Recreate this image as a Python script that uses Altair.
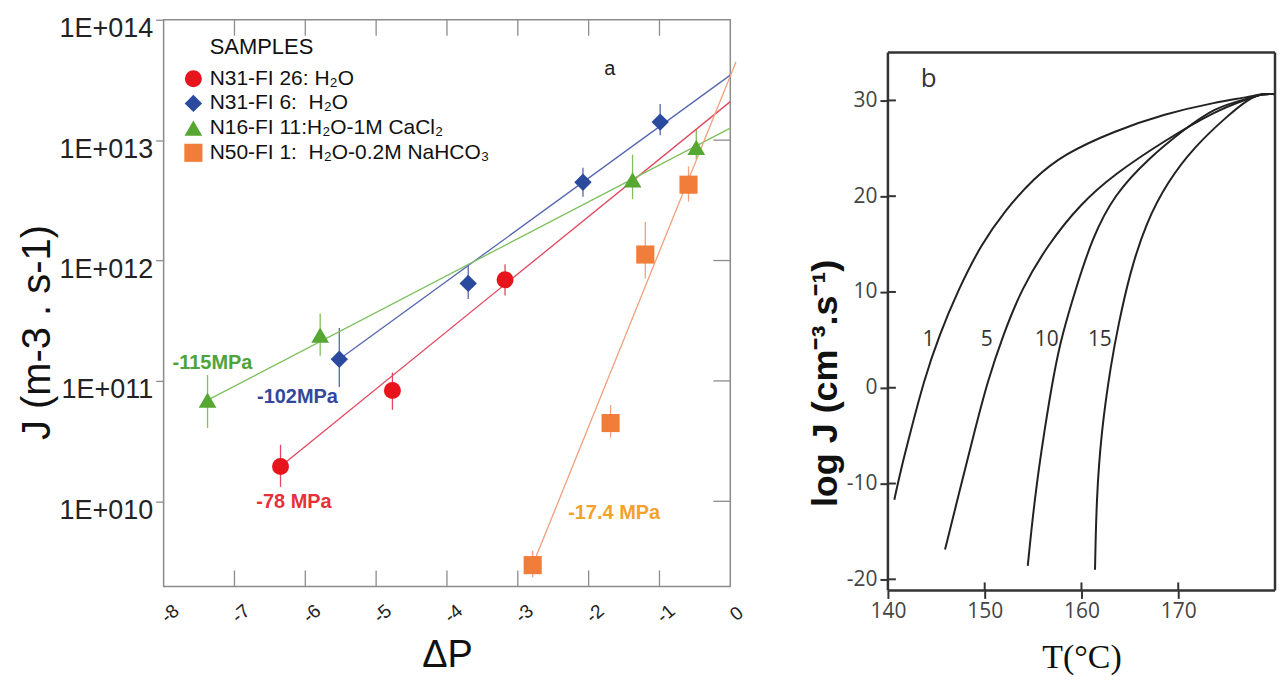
import altair as alt
import pandas as pd

# ---------------- Panel a : J vs delta P ----------------
series_names = ["N31-FI 26", "N31-FI 6", "N16-FI 11", "N50-FI 1"]
legend_labels = ["N31-FI 26: H₂O", "N31-FI 6: \u00a0H₂O", "N16-FI 11:H₂O-1M CaCl₂",
                 "N50-FI 1: \u00a0H₂O-0.2M NaHCO₃"]

red_dp = [-6.35, -4.77, -3.18]
red_logj = [10.29, 10.92, 11.84]
red_err_up = [0.18, 0.15, 0.13]
red_err_dn = [0.17, 0.16, 0.13]

blue_dp = [-5.52, -3.70, -2.08, -0.99]
blue_logj = [11.18, 11.81, 12.65, 13.15]
blue_err_up = [0.26, 0.16, 0.12, 0.15]
blue_err_dn = [0.23, 0.13, 0.12, 0.11]

green_dp = [-7.38, -5.79, -1.38, -0.48]
green_logj = [10.84, 11.38, 12.67, 12.94]
green_err_up = [0.21, 0.18, 0.21, 0.15]
green_err_dn = [0.23, 0.17, 0.16, 0.10]

orange_dp = [-2.79, -1.69, -1.20, -0.59]
orange_logj = [9.47, 10.65, 12.05, 12.63]
orange_err_up = [0.12, 0.15, 0.27, 0.15]
orange_err_dn = [0.10, 0.12, 0.20, 0.14]

# fitted lines (start / end)
fit_dp0 = [-6.35, -5.52, -7.38, -2.79]
fit_logj0 = [10.29, 11.18, 10.84, 9.47]
fit_dp1 = [0.0, 0.0, 0.0, 0.08]
fit_logj1 = [13.32, 13.54, 13.10, 13.65]

mpa_text = ["-78 MPa", "-102MPa", "-115MPa", "-17.4 MPa"]
mpa_dp = [-6.16, -6.11, -7.31, -1.64]
mpa_logj = [9.99, 10.87, 11.15, 9.90]

legend_title = "SAMPLES"
legend_title_pos = (-7.35, 13.77)
legend_dp_marker = -7.58
legend_dp_text = -7.35
legend_logj = [13.51, 13.305, 13.10, 12.895]

panel_a_label = ("a", -1.70, 13.59)

x_ticks_a = [-8, -7, -6, -5, -4, -3, -2, -1, 0]
y_ticks_a = [1e10, 1e11, 1e12, 1e13, 1e14]
y_min_log_a = 9.293

# ---------------- Panel b : log J vs T ----------------
curve_names = ["1", "5", "10", "15"]
c1_T = [140.66, 141.3, 142.35, 143.7, 145.3, 147.3, 149.6, 152.0, 155.1, 158.2, 163.4, 168.6, 173.8, 177.3, 178.7, 180.0]
c1_L = [-11.7, -8.7, -4.55, 0.7, 5.5, 10.3, 14.9, 18.4, 21.9, 24.4, 26.8, 28.6, 29.8, 30.35, 30.7, 30.65]
c5_T = [145.9, 147.2, 148.95, 150.3, 151.9, 153.8, 156.5, 159.9, 163.4, 168.6, 173.8, 177.3, 178.7, 180.0]
c5_L = [-16.9, -11.6, -4.55, 0.7, 5.5, 10.3, 14.9, 19.2, 22.3, 25.8, 28.9, 30.2, 30.7, 30.65]
c10_T = [154.45, 155.15, 156.15, 157.2, 158.0, 159.4, 161.1, 163.4, 167.0, 170.4, 173.8, 177.3, 178.7, 180.0]
c10_L = [-18.6, -11.6, -4.55, 1.8, 5.5, 10.3, 15.6, 20.2, 24.0, 26.8, 29.3, 30.2, 30.7, 30.65]
c15_T = [161.4, 161.55, 162.05, 163.05, 163.8, 165.0, 166.7, 168.9, 171.6, 175.1, 177.3, 178.7, 180.0]
c15_L = [-19.0, -11.6, -4.55, 2.5, 6.5, 12.0, 17.3, 21.5, 25.1, 28.4, 30.2, 30.7, 30.65]

curve_label_T = [144.2, 150.2, 156.4, 161.9]
curve_label_L = [4.95, 4.95, 4.95, 4.95]
panel_b_label = ("b", 144.2, 32.2)

x_ticks_b = [140, 150, 160, 170]
y_ticks_b = [-20, -10, 0, 10, 20, 30]
t_min, t_max = 140, 180
logj_min, logj_frame_top, logj_top = -21.16, 35.0, 38.42

# ---------------- styles ----------------
pt_colors = ["#e8141c", "#2b4a9e", "#56a832", "#f07e3a"]
line_colors = ["#e2475e", "#5468b0", "#7fbf5e", "#f2a07c"]
mpa_colors = ["#e8303a", "#34479a", "#4ea33a", "#f3a22e"]
shapes = ["circle", "diamond", "triangle-up", "square"]
sizes = [290, 330, 300, 330]
SANS = "Liberation Sans"

# ---------------- build tables ----------------
rows = []
for name, xs, ys, ups, dns in [
    (series_names[0], red_dp, red_logj, red_err_up, red_err_dn),
    (series_names[1], blue_dp, blue_logj, blue_err_up, blue_err_dn),
    (series_names[2], green_dp, green_logj, green_err_up, green_err_dn),
    (series_names[3], orange_dp, orange_logj, orange_err_up, orange_err_dn),
]:
    for x, y, u, d in zip(xs, ys, ups, dns):
        rows.append({"series": name, "dp": x, "J": 10 ** y, "lo": 10 ** (y - d), "hi": 10 ** (y + u)})
df_pts = pd.DataFrame(rows)

fit_rows = []
for i, name in enumerate(series_names):
    fit_rows.append({"series": name, "dp": fit_dp0[i], "J": 10 ** fit_logj0[i], "o": 0, "lc": line_colors[i]})
    fit_rows.append({"series": name, "dp": fit_dp1[i], "J": 10 ** fit_logj1[i], "o": 1, "lc": line_colors[i]})
df_fit = pd.DataFrame(fit_rows)

df_err = df_pts.copy()
df_err["lc"] = df_err["series"].map(dict(zip(series_names, line_colors)))

df_mpa = pd.DataFrame({"t": mpa_text, "dp": mpa_dp, "J": [10 ** v for v in mpa_logj], "c": mpa_colors})
df_leg = pd.DataFrame({"series": series_names, "label": legend_labels,
                       "dpm": [legend_dp_marker] * 4, "dpt": [legend_dp_text] * 4,
                       "J": [10 ** v for v in legend_logj]})

W_A, H_A = 568, 568
W_B, H_B = 388, 572

xs_a = alt.Scale(domain=[x_ticks_a[0], x_ticks_a[-1]], nice=False, zero=False)
ys_a = alt.Scale(type="log", domain=[10 ** y_min_log_a, y_ticks_a[-1]], nice=False)
col_s = alt.Scale(domain=series_names, range=pt_colors)
shp_s = alt.Scale(domain=series_names, range=shapes)
siz_s = alt.Scale(domain=series_names, range=sizes)

x_axis_a = alt.Axis(title="ΔP", values=x_ticks_a, labelExpr="'' + datum.value", labelAngle=-40,
                    labelAlign="center", labelBaseline="middle", labelPadding=27, labelOffset=6,
                    labelFontSize=19, labelFont=SANS, labelColor="#222", ticks=False, tickSize=0,
                    domain=False, grid=False, labelFlush=False, labelOverlap=False,
                    titleFontSize=38, titleFont=SANS, titleFontWeight="normal", titleColor="#111",
                    titleY=69, titleBaseline="middle")
y_axis_a = alt.Axis(title="J  (m-3 . s-1)", values=y_ticks_a,
                    labelExpr="'1E+0' + round(log(datum.value)/LN10)", labelFontSize=27,
                    labelFont=SANS, labelColor="#222", labelOffset=9, labelPadding=3, tickSize=8,
                    tickColor="#8c8c8c", tickWidth=1.3, domain=False, grid=False,
                    labelOverlap=False, labelFlush=False, titleFontSize=40, titleFont=SANS,
                    titleFontWeight="normal", titleColor="#111", titleX=-126, titleY=313,
                    titleAngle=270, titleAlign="center", titleBaseline="middle")

err = alt.Chart(df_err).mark_rule(strokeWidth=1.3).encode(
    x=alt.X("dp:Q", scale=xs_a, axis=x_axis_a),
    y=alt.Y("lo:Q", scale=ys_a, axis=y_axis_a),
    y2="hi:Q",
    color=alt.Color("lc:N", scale=None),
)
fits = alt.Chart(df_fit).mark_line(strokeWidth=1.3).encode(
    x=alt.X("dp:Q", scale=xs_a), y=alt.Y("J:Q", scale=ys_a),
    color=alt.Color("lc:N", scale=None), detail="series:N", order="o:Q")
pts = alt.Chart(df_pts).mark_point(filled=True, opacity=1).encode(
    x=alt.X("dp:Q", scale=xs_a), y=alt.Y("J:Q", scale=ys_a),
    color=alt.Color("series:N", scale=col_s, legend=None),
    shape=alt.Shape("series:N", scale=shp_s, legend=None),
    size=alt.Size("series:N", scale=siz_s, legend=None))
leg_pts = alt.Chart(df_leg).mark_point(filled=True, opacity=1).encode(
    x=alt.X("dpm:Q", scale=xs_a), y=alt.Y("J:Q", scale=ys_a),
    color=alt.Color("series:N", scale=col_s, legend=None),
    shape=alt.Shape("series:N", scale=shp_s, legend=None),
    size=alt.Size("series:N", scale=siz_s, legend=None))
leg_txt = alt.Chart(df_leg).mark_text(align="left", baseline="middle", font=SANS, fontSize=21,
                                      color="#111").encode(
    x=alt.X("dpt:Q", scale=xs_a), y=alt.Y("J:Q", scale=ys_a), text="label:N")
leg_title = alt.Chart(pd.DataFrame({"t": [legend_title], "dp": [legend_title_pos[0]],
                                    "J": [10 ** legend_title_pos[1]]})).mark_text(
    align="left", baseline="middle", font=SANS, fontSize=22, color="#111").encode(
    x=alt.X("dp:Q", scale=xs_a), y=alt.Y("J:Q", scale=ys_a), text="t:N")
mpa = alt.Chart(df_mpa).mark_text(align="center", baseline="middle", font=SANS, fontSize=20,
                                  fontWeight="bold").encode(
    x=alt.X("dp:Q", scale=xs_a), y=alt.Y("J:Q", scale=ys_a), text="t:N",
    color=alt.Color("c:N", scale=None))
a_lab = alt.Chart(pd.DataFrame({"t": [panel_a_label[0]], "dp": [panel_a_label[1]],
                                "J": [10 ** panel_a_label[2]]})).mark_text(
    align="center", baseline="middle", font=SANS, fontSize=20, color="#222").encode(
    x=alt.X("dp:Q", scale=xs_a), y=alt.Y("J:Q", scale=ys_a), text="t:N")

inner_x = pd.DataFrame({"dp": x_ticks_a[1:-1]})
top_ticks = alt.Chart(inner_x).mark_rule(color="#8c8c8c", strokeWidth=1.3).encode(
    x=alt.X("dp:Q", scale=xs_a), y=alt.value(0), y2=alt.value(16))
bot_ticks = alt.Chart(inner_x).mark_rule(color="#8c8c8c", strokeWidth=1.3).encode(
    x=alt.X("dp:Q", scale=xs_a), y=alt.value(H_A), y2=alt.value(H_A - 16))
right_ticks = alt.Chart(pd.DataFrame({"J": y_ticks_a[:-1]})).mark_rule(
    color="#8c8c8c", strokeWidth=1.3).encode(
    y=alt.Y("J:Q", scale=ys_a), x=alt.value(W_A), x2=alt.value(W_A - 17))

left = alt.layer(err, fits, pts, leg_pts, leg_txt, leg_title, mpa, a_lab,
                 top_ticks, bot_ticks, right_ticks).properties(
    width=W_A, height=H_A,
    view=alt.ViewBackground(stroke="#8c8c8c", strokeWidth=1.5))

# ---------------- Panel b chart ----------------
crow = []
for name, Ts, Ls in [(curve_names[0], c1_T, c1_L), (curve_names[1], c5_T, c5_L),
                     (curve_names[2], c10_T, c10_L), (curve_names[3], c15_T, c15_L)]:
    for k, (t, l) in enumerate(zip(Ts, Ls)):
        crow.append({"curve": name, "T": t, "L": l, "o": k})
df_curves = pd.DataFrame(crow)

xs_b = alt.Scale(domain=[t_min, t_max], nice=False, zero=False)
ys_b = alt.Scale(domain=[logj_min, logj_top], nice=False, zero=False)
MYR = "Open Sans"

x_axis_b = alt.Axis(title="T(°C)", values=x_ticks_b, tickSize=8, tickWidth=2, tickColor="#333",
                    labelFontSize=21, labelFont=MYR, labelColor="#444", labelPadding=2,
                    domain=False, grid=False, labelFlush=False, labelOverlap=False,
                    titleFont="Liberation Serif", titleFontSize=34, titleFontWeight="normal",
                    titleColor="#111", titleY=67, titleBaseline="middle")
y_axis_b = alt.Axis(title="log J (cm⁻³.s⁻¹)", values=y_ticks_b, labelExpr="'' + datum.value",
                    tickSize=8, tickWidth=2, tickColor="#333", labelFontSize=21, labelFont=MYR,
                    labelColor="#444", labelPadding=3, domain=False, grid=False,
                    labelFlush=False, labelOverlap=False, titleFont=SANS, titleFontSize=36,
                    titleFontWeight="bold", titleColor="#111", titleX=-63, titleY=364,
                    titleAngle=270, titleAlign="center", titleBaseline="middle")

curves = alt.Chart(df_curves).mark_line(color="#222", strokeWidth=2, interpolate="basis").encode(
    x=alt.X("T:Q", scale=xs_b, axis=x_axis_b),
    y=alt.Y("L:Q", scale=ys_b, axis=y_axis_b),
    detail="curve:N", order="o:Q")

df_frame = pd.DataFrame({
    "x": [t_min, t_max, t_min, t_min],
    "x2": [t_min, t_max, t_max, t_max],
    "y": [logj_min, logj_min, logj_frame_top, logj_min],
    "y2": [logj_frame_top, logj_frame_top, logj_frame_top, logj_min],
})
frame = alt.Chart(df_frame).mark_rule(color="#333", strokeWidth=2.5).encode(
    x=alt.X("x:Q", scale=xs_b), x2="x2:Q", y=alt.Y("y:Q", scale=ys_b), y2="y2:Q")

in_y = alt.Chart(pd.DataFrame({"L": y_ticks_b})).mark_rule(color="#333", strokeWidth=2).encode(
    y=alt.Y("L:Q", scale=ys_b), x=alt.value(0), x2=alt.value(8))
in_x = alt.Chart(pd.DataFrame({"T": x_ticks_b[1:]})).mark_rule(color="#333", strokeWidth=2).encode(
    x=alt.X("T:Q", scale=xs_b), y=alt.value(H_B), y2=alt.value(H_B - 8))

df_clab = pd.DataFrame({"t": curve_names, "T": curve_label_T, "L": curve_label_L})
clab = alt.Chart(df_clab).mark_text(font=MYR, fontSize=21, color="#333", align="center",
                                    baseline="middle").encode(
    x=alt.X("T:Q", scale=xs_b), y=alt.Y("L:Q", scale=ys_b), text="t:N")
b_lab = alt.Chart(pd.DataFrame({"t": [panel_b_label[0]], "T": [panel_b_label[1]],
                                "L": [panel_b_label[2]]})).mark_text(
    font=MYR, fontSize=26, color="#333", align="center", baseline="middle").encode(
    x=alt.X("T:Q", scale=xs_b), y=alt.Y("L:Q", scale=ys_b), text="t:N")

right = alt.layer(curves, frame, in_y, in_x, clab, b_lab).properties(
    width=W_B, height=H_B,
    view=alt.ViewBackground(stroke="transparent"))

chart = alt.hconcat(left, right, spacing=158, bounds="flush").properties(
    padding={"left": 9, "top": 5, "right": 0, "bottom": 0}
).configure(background="white")

chart.save("out.html", embed_options={"renderer": "svg", "actions": False})
